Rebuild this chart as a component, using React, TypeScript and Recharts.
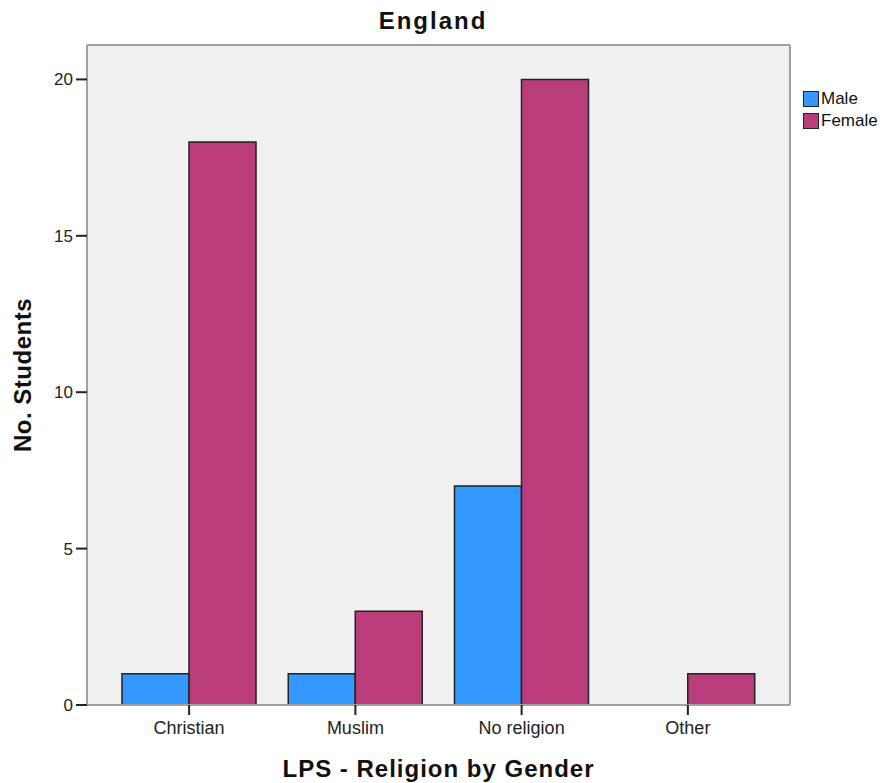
import React from "react";
import { BarChart, Bar, XAxis, YAxis, CartesianGrid, Label } from "recharts";

const religions = ["Christian", "Muslim", "No religion", "Other"];
const maleCounts = [1, 1, 7, 0];
const femaleCounts = [18, 3, 20, 1];
const yTicks = [0, 5, 10, 15, 20];

const MALE = "#3399ff";
const FEMALE = "#b83d7a";
const font = "Arial, 'Liberation Sans', sans-serif";

const data = religions.map((r, i) => ({ religion: r, Male: maleCounts[i], Female: femaleCounts[i] }));

function LegendBox() {
  const items = [
    { name: "Male", color: MALE },
    { name: "Female", color: FEMALE },
  ];
  return (
    <div style={{ position: "absolute", left: 803, top: 88, fontFamily: font, fontSize: 17, color: "#111" }}>
      {items.map((it) => (
        <div key={it.name} style={{ display: "flex", alignItems: "center", height: 22 }}>
          <span style={{ width: 14, height: 14, background: it.color, border: "1.5px solid #222", display: "inline-block", marginRight: 2 }} />
          <span>{it.name}</span>
        </div>
      ))}
    </div>
  );
}

export default function App() {
  return (
    <div style={{ position: "absolute", left: 0, top: 0, width: 888, height: 783, background: "#fff" }}>
      <div style={{ position: "absolute", left: 0, top: 7, width: 866, textAlign: "center", fontFamily: font, fontWeight: "bold", fontSize: 24, letterSpacing: 2, color: "#111" }}>
        England
      </div>
      <BarChart
        width={888}
        height={783}
        data={data}
        margin={{ top: 45, right: 98, bottom: 0, left: 37 }}
        barGap={0}
        barCategoryGap={16}
      >
        <CartesianGrid
          fill="#f0f0f0"
          stroke="#a0a0a0"
          strokeWidth={2}
          horizontalCoordinatesGenerator={({ offset }: any) => [offset.top, offset.top + offset.height]}
          verticalCoordinatesGenerator={({ offset }: any) => [offset.left, offset.left + offset.width]}
        />
        <XAxis
          dataKey="religion"
          height={78}
          padding={{ left: 19, right: 19 }}
          axisLine={{ stroke: "#a0a0a0", strokeWidth: 2 }}
          tickLine={{ stroke: "#222", strokeWidth: 2 }}
          tickSize={10}
          tickMargin={6}
          tick={{ fill: "#222", fontSize: 18, fontFamily: font }}
        >
          <Label
            value="LPS - Religion by Gender"
            position="insideBottom"
            offset={6}
            style={{ fontFamily: font, fontWeight: "bold", fontSize: 24, letterSpacing: 1, fill: "#111" }}
          />
        </XAxis>
        <YAxis
          width={50}
          domain={[0, 21.1]}
          ticks={yTicks}
          allowDataOverflow
          axisLine={{ stroke: "#a0a0a0", strokeWidth: 2 }}
          tickLine={{ stroke: "#222", strokeWidth: 2 }}
          tickSize={11}
          tickMargin={3}
          tick={{ fill: "#222", fontSize: 17, fontFamily: font }}
        >
          <Label
            value="No. Students"
            angle={-90}
            position="insideLeft"
            offset={-15}
            style={{ fontFamily: font, fontWeight: "bold", fontSize: 24, letterSpacing: 0.5, fill: "#111", textAnchor: "middle" }}
          />
        </YAxis>
        <Bar dataKey="Male" fill={MALE} stroke="#222" strokeWidth={1.5} isAnimationActive={false} />
        <Bar dataKey="Female" fill={FEMALE} stroke="#222" strokeWidth={1.5} isAnimationActive={false} />
      </BarChart>
      <LegendBox />
    </div>
  );
}
